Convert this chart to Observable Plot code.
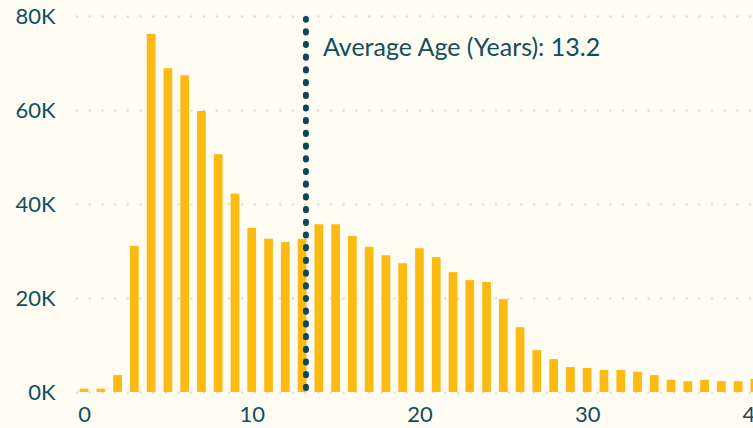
<!DOCTYPE html>
<html>
<head>
<meta charset="utf-8">
<script src="https://cdn.jsdelivr.net/npm/d3@7"></script>
<script src="https://cdn.jsdelivr.net/npm/@observablehq/plot@0.6"></script>
<style>
  html, body { margin: 0; padding: 0; background: #FFFCF4; }
  #chart { width: 753px; height: 428px; overflow: hidden; }
  #chart svg { max-width: none !important; width: 800px !important; height: 428px !important; }
</style>
</head>
<body>
<div id="chart"></div>
<script>
// Age in years and count of vehicles
const ages = [0,1,2,3,4,5,6,7,8,9,10,11,12,13,14,15,16,17,18,19,20,21,22,23,24,25,26,27,28,29,30,31,32,33,34,35,36,37,38,39,40];
const counts = [700,700,3600,31100,76200,68900,67400,59800,50600,42200,34900,32600,31900,32600,35700,35700,33200,30900,29100,27400,30600,28700,25500,23800,23400,19800,13800,8900,7000,5300,5100,4700,4700,4300,3600,2600,2300,2600,2300,2300,2800];
const averageAge = 13.2;
const averageLabel = "Average Age (Years): " + averageAge;
const yTicks = [0, 20000, 40000, 60000, 80000];
const xTicks = [0, 10, 20, 30, 40];

const data = ages.map((a, i) => ({age: a, count: counts[i]}));
const half = 0.26;

const teal = "#124F5C";
const chart = Plot.plot({
  width: 800,
  height: 428,
  marginLeft: 77,
  marginRight: 0,
  marginTop: 16,
  marginBottom: 36,
  style: {background: "transparent", fontFamily: "Lato, sans-serif", color: teal},
  x: {domain: [-0.42, 42.69], label: null},
  y: {domain: [0, 80000], label: null},
  marks: [
    Plot.gridY(yTicks, {stroke: "#E2DFD8", strokeOpacity: 1, strokeWidth: 2.6, strokeDasharray: "0 12.7", strokeLinecap: "round"}),
    Plot.rectY(data, {x1: d => d.age - half, x2: d => d.age + half, y1: 0, y2: "count", fill: "#FDBA13"}),
    Plot.axisY(yTicks, {tickSize: 0, tickPadding: 22, tickFormat: d => d / 1000 + "K", fontSize: 22, fill: teal, label: null}),
    Plot.axisX(xTicks, {tickSize: 0, tickPadding: 14, fontSize: 22, fill: teal, label: null}),
    Plot.ruleX([averageAge], {y1: 0, y2: 80000, insetTop: -4, insetBottom: -3, stroke: "#0E4856", strokeWidth: 6, strokeDasharray: "1.2 11.5", strokeLinecap: "round"}),
    Plot.text([averageLabel], {x: averageAge, frameAnchor: "top", dx: 17, dy: 31, text: d => d, textAnchor: "start", lineAnchor: "middle", fontSize: 25, fill: teal})
  ]
});
document.getElementById("chart").appendChild(chart);
</script>
</body>
</html>
